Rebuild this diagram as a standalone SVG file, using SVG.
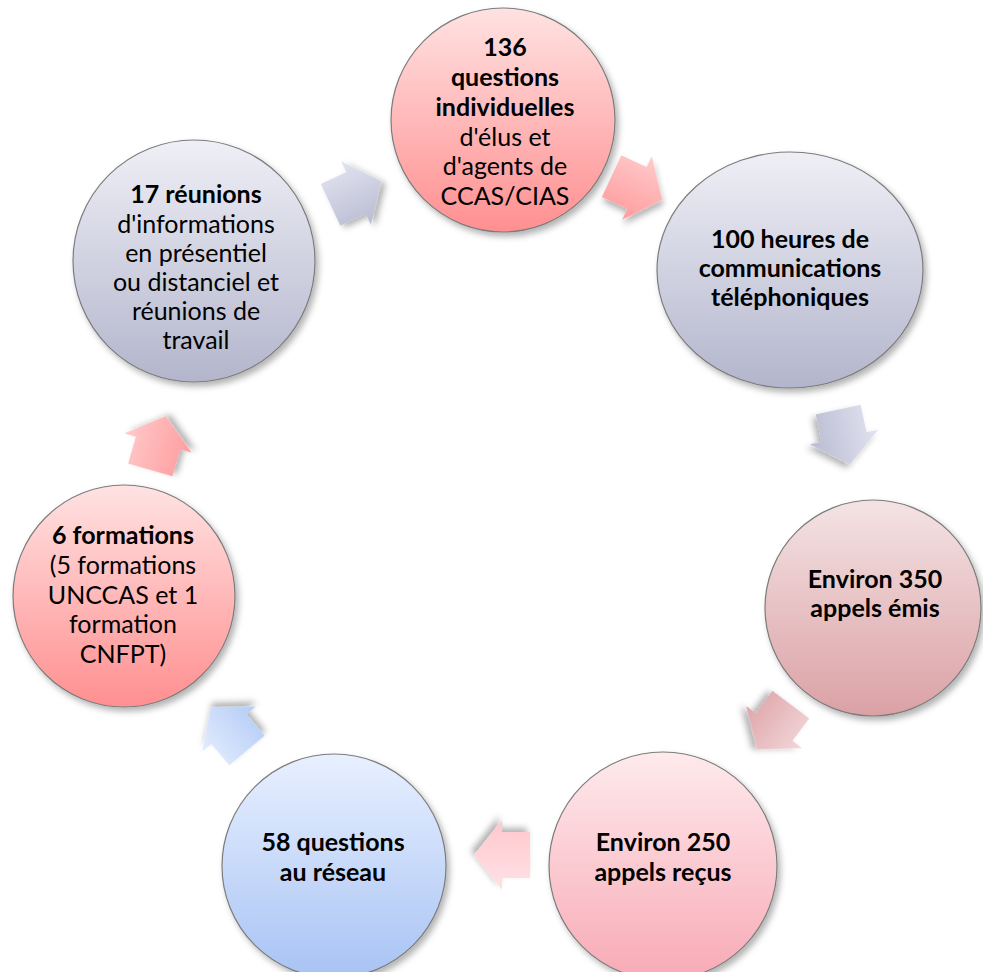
<svg xmlns="http://www.w3.org/2000/svg" width="983" height="972" viewBox="0 0 983 972">
<defs>
<filter id="sh" x="-20%" y="-20%" width="140%" height="140%">
<feDropShadow dx="3" dy="4" stdDeviation="3" flood-color="#000" flood-opacity="0.3"/>
</filter>
<linearGradient id="gPink" x1="0" y1="0" x2="0" y2="1"><stop offset="0" stop-color="#ffe2e2"/><stop offset="1" stop-color="#ff8f90"/></linearGradient>
<linearGradient id="gGray" x1="0" y1="0" x2="0" y2="1"><stop offset="0" stop-color="#efeff6"/><stop offset="1" stop-color="#b3b5cc"/></linearGradient>
<linearGradient id="gDusty" x1="0" y1="0" x2="0" y2="1"><stop offset="0" stop-color="#f4e3e4"/><stop offset="1" stop-color="#dba1a5"/></linearGradient>
<linearGradient id="gRose" x1="0" y1="0" x2="0" y2="1"><stop offset="0" stop-color="#feeaec"/><stop offset="1" stop-color="#f8aab6"/></linearGradient>
<linearGradient id="gBlue" x1="0" y1="0" x2="0" y2="1"><stop offset="0" stop-color="#e8f0ff"/><stop offset="1" stop-color="#a8c3f4"/></linearGradient>
<linearGradient id="aGray" x1="0" y1="0" x2="0" y2="1"><stop offset="0" stop-color="#e2e3ef"/><stop offset="1" stop-color="#b9bbd2"/></linearGradient>
<linearGradient id="aPink" x1="0" y1="0" x2="0" y2="1"><stop offset="0" stop-color="#ffcaca"/><stop offset="1" stop-color="#ff9c9e"/></linearGradient>
<linearGradient id="aDusty" x1="0" y1="0" x2="0" y2="1"><stop offset="0" stop-color="#f2d6d8"/><stop offset="1" stop-color="#dea6aa"/></linearGradient>
<linearGradient id="aRose" x1="0" y1="0" x2="0" y2="1"><stop offset="0" stop-color="#ffe2e5"/><stop offset="1" stop-color="#ffc7cd"/></linearGradient>
<linearGradient id="aBlue" x1="0" y1="0" x2="0" y2="1"><stop offset="0" stop-color="#e2ecfd"/><stop offset="1" stop-color="#b3ccf7"/></linearGradient>
<polygon id="arr" points="-28,-23 0,-23 0,-35 28,0 0,35 0,23 -28,23"/>
</defs>
<style>
.c{stroke:#7c7c7c;stroke-width:1.2;filter:url(#sh)}
.a{filter:url(#sh)}
text{font-family:Lato,"Liberation Sans",sans-serif;font-size:25px;fill:#000;text-anchor:middle}
.b{font-weight:bold}
</style>
<rect width="983" height="972" fill="#fff"/>
<g id="connectors">
<g transform="translate(356,193) rotate(-25)"><use href="#arr" class="a" fill="url(#aGray)"/></g>
<g transform="translate(637,188) rotate(25)"><use href="#arr" class="a" fill="url(#aPink)"/></g>
<g transform="translate(844,437) rotate(78)"><use href="#arr" class="a" fill="url(#aGray)"/></g>
<g transform="translate(774,727) rotate(127)"><use href="#arr" class="a" fill="url(#aDusty)"/></g>
<g transform="translate(502,855) rotate(180)"><use href="#arr" class="a" fill="url(#aRose)"/></g>
<g transform="translate(229,729) rotate(-130)"><use href="#arr" class="a" fill="url(#aBlue)"/></g>
<g transform="translate(158,443) rotate(-74)"><use href="#arr" class="a" fill="url(#aPink)"/></g>
</g>
<g id="n136">
<circle class="c" cx="503" cy="120" r="112" fill="url(#gPink)"/>
<text x="505" y="56" class="b">136</text>
<text x="505" y="86" class="b">questions</text>
<text x="505" y="116" class="b">individuelles</text>
<text x="505" y="146">d'élus et</text>
<text x="505" y="175">d'agents de</text>
<text x="505" y="205">CCAS/CIAS</text>
</g>
<g id="n100">
<ellipse class="c" cx="790" cy="270" rx="133" ry="118" fill="url(#gGray)"/>
<text x="790" y="248" class="b">100 heures de</text>
<text x="790" y="277" class="b">communications</text>
<text x="790" y="306" class="b">téléphoniques</text>
</g>
<g id="n350">
<circle class="c" cx="873" cy="608" r="108" fill="url(#gDusty)"/>
<text x="875" y="588" class="b">Environ 350</text>
<text x="875" y="617" class="b">appels émis</text>
</g>
<g id="n250">
<circle class="c" cx="663" cy="866" r="114" fill="url(#gRose)"/>
<text x="663" y="851" class="b">Environ 250</text>
<text x="663" y="881" class="b">appels reçus</text>
</g>
<g id="n58">
<circle class="c" cx="334" cy="866" r="112" fill="url(#gBlue)"/>
<text x="333" y="851" class="b">58 questions</text>
<text x="333" y="881" class="b">au réseau</text>
</g>
<g id="n6">
<circle class="c" cx="124" cy="596" r="111" fill="url(#gPink)"/>
<text x="123" y="544" class="b">6 formations</text>
<text x="123" y="574">(5 formations</text>
<text x="123" y="604">UNCCAS et 1</text>
<text x="123" y="633">formation</text>
<text x="123" y="663">CNFPT)</text>
</g>
<g id="n17">
<circle class="c" cx="194" cy="261" r="121" fill="url(#gGray)"/>
<text x="196" y="203" class="b">17 réunions</text>
<text x="196" y="233">d'informations</text>
<text x="196" y="262">en présentiel</text>
<text x="196" y="291">ou distanciel et</text>
<text x="196" y="320">réunions de</text>
<text x="196" y="349">travail</text>
</g>
</svg>
